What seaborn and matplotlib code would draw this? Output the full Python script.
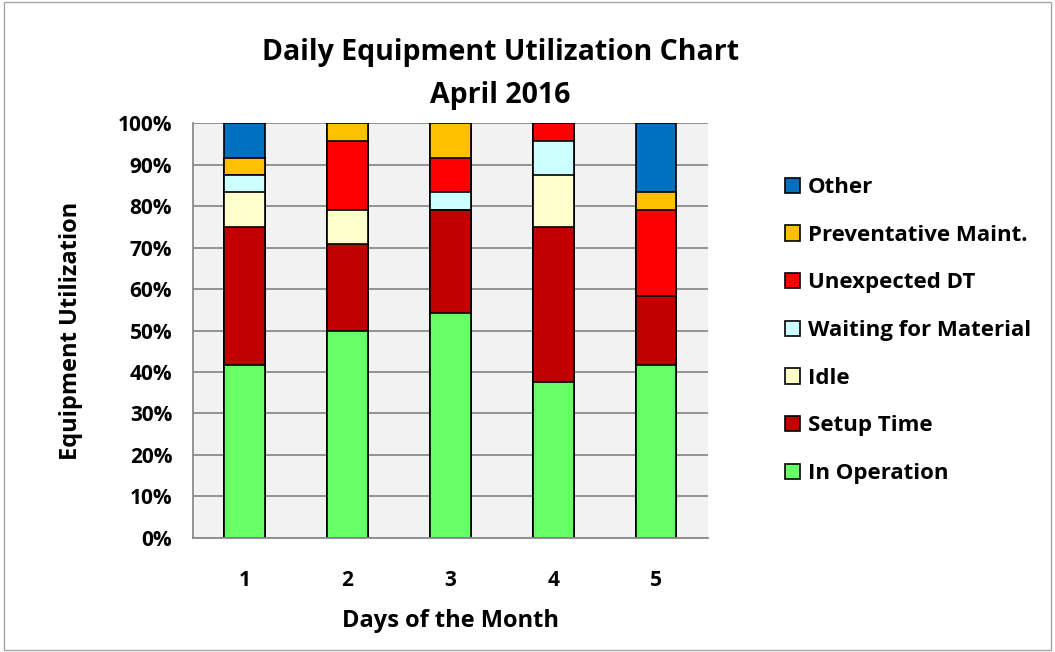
import matplotlib
matplotlib.use("Agg")
import matplotlib.pyplot as plt
from matplotlib.patches import Patch, Rectangle
from matplotlib.ticker import FixedLocator, PercentFormatter
import pandas as pd
import seaborn as sns

days = ["1", "2", "3", "4", "5"]
# share of the 24h day for each category (bottom to top)
in_operation = [41.67, 50.00, 54.17, 37.50, 41.67]
setup_time = [33.33, 20.83, 25.00, 37.50, 16.67]
idle = [8.33, 8.33, 0.00, 12.50, 0.00]
waiting = [4.17, 0.00, 4.17, 8.33, 0.00]
unexpected_dt = [0.00, 16.67, 8.33, 4.17, 20.83]
preventative = [4.17, 4.17, 8.33, 0.00, 4.17]
other = [8.33, 0.00, 0.00, 0.00, 16.67]

series = ["In Operation", "Setup Time", "Idle", "Waiting for Material",
          "Unexpected DT", "Preventative Maint.", "Other"]
colours = {"In Operation": "#66FF66",
           "Setup Time": "#C00000",
           "Idle": "#FFFFCC",
           "Waiting for Material": "#CCFFFF",
           "Unexpected DT": "#FF0000",
           "Preventative Maint.": "#FFC000",
           "Other": "#0070C0"}

df = pd.DataFrame({"day": days,
                   "In Operation": in_operation,
                   "Setup Time": setup_time,
                   "Idle": idle,
                   "Waiting for Material": waiting,
                   "Unexpected DT": unexpected_dt,
                   "Preventative Maint.": preventative,
                   "Other": other})

# cumulative totals so each series can be drawn over the one above it
cum = df[series].cumsum(axis=1)
cum["day"] = df["day"]

sns.set_style("white", {"text.color": "black", "axes.labelcolor": "black",
                        "xtick.color": "black", "ytick.color": "black"})
plt.rcParams["font.family"] = ["Open Sans", "DejaVu Sans"]
plt.rcParams["font.weight"] = "bold"

fig = plt.figure(figsize=(10.55, 6.52), dpi=100)
ax = fig.add_axes([0.183, 0.175, 0.488, 0.636])
ax.set_facecolor("#F2F2F2")

for name in reversed(series):
    sns.barplot(data=cum, x="day", y=name, color=colours[name], width=0.39,
                edgecolor="black", linewidth=1.2, saturation=1, ax=ax)

ax.set_ylim(0, 100)
ax.set_xlim(-0.5, 4.5)
ax.yaxis.set_major_locator(FixedLocator(range(0, 101, 10)))
ax.yaxis.set_major_formatter(PercentFormatter(decimals=0))
ax.grid(axis="y", color="#8C8C8C", linewidth=1.3)
ax.set_axisbelow(True)

for s in ["top", "right"]:
    ax.spines[s].set_visible(False)
for s in ["left", "bottom"]:
    ax.spines[s].set_color("#8C8C8C")
    ax.spines[s].set_linewidth(1.3)

ax.set_xticks(range(5))
ax.set_xticks([-0.5, 0.5, 1.5, 2.5, 3.5, 4.5], minor=True)
ax.tick_params(axis="x", which="major", length=0, pad=23, labelsize=15, labelcolor="black")
ax.tick_params(axis="x", which="minor", length=6, width=1.3, color="#8C8C8C", direction="out")
ax.tick_params(axis="y", length=6, width=1.3, color="#8C8C8C", direction="out",
               labelsize=15, pad=9, labelcolor="black")
for lab in ax.get_xticklabels() + ax.get_yticklabels():
    lab.set_fontweight("bold")

ax.set_xlabel("Days of the Month", fontsize=17, fontweight="bold", labelpad=13, color="black")
ax.set_ylabel("Equipment Utilization", fontsize=17, fontweight="bold", labelpad=25, color="black")

fig.suptitle("Daily Equipment Utilization Chart\nApril 2016", x=0.474, y=0.942,
             fontsize=20.5, fontweight="bold", linespacing=1.66, color="black")

handles = [Patch(facecolor=colours[n], edgecolor="black", linewidth=1.2) for n in reversed(series)]
fig.legend(handles, list(reversed(series)), loc="upper left",
           bbox_to_anchor=(0.725, 0.759), frameon=False,
           prop={"size": 16, "weight": "bold"}, labelcolor="black",
           handlelength=0.68, handleheight=0.68, handletextpad=0.35,
           labelspacing=1.2)

fig.patches.append(Rectangle((0.004, 0.003), 0.992, 0.994, transform=fig.transFigure,
                             fill=False, edgecolor="#A6A6A6", linewidth=1))

fig.savefig("out.png", dpi=100)
